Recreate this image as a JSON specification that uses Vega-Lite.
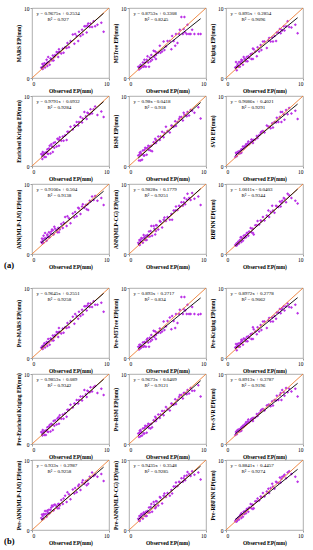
{
"$schema":"https://vega.github.io/schema/vega-lite/v6.json",
"padding":{"left":4,"top":5,"right":0,"bottom":0},
"background":"white",
"datasets":{
"pts":[
{"o":1.2,"a1":1.5,"a2":1.6,"a3":1.5,"a4":1.7,"a5":1.5,"a6":1.3,"a7":1.7,"a8":1.6,"a9":1.3,"b1":1.5,"b2":1.6,"b3":1.5,"b4":1.7,"b5":1.5,"b6":1.3,"b7":1.7,"b8":1.6,"b9":1.3},
{"o":1.3,"a1":1.4,"a2":1.2,"a3":2.3,"a4":1.6,"a5":0.8,"a6":1.9,"a7":2.2,"a8":1.4,"a9":1.2,"b1":1.4,"b2":1.2,"b3":2.0,"b4":1.6,"b5":1.0,"b6":1.7,"b7":2.2,"b8":1.4,"b9":1.2},
{"o":1.35,"a1":2.0,"a2":1.6,"a3":1.6,"a4":1.0,"a5":1.6,"a6":1.8,"a7":1.5,"a8":2.0,"a9":1.5,"b1":1.7,"b2":1.9,"b3":1.6,"b4":1.2,"b5":1.6,"b6":1.8,"b7":1.5,"b8":2.0,"b9":1.5},
{"o":1.4,"a1":1.3,"a2":1.6,"a3":1.1,"a4":2.0,"a5":1.9,"a6":1.4,"a7":2.0,"a8":1.3,"a9":1.2,"b1":1.3,"b2":1.6,"b3":1.1,"b4":2.0,"b5":1.9,"b6":1.4,"b7":2.0,"b8":1.3,"b9":1.2},
{"o":1.5,"a1":1.8,"a2":1.4,"a3":2.0,"a4":1.7,"a5":0.8,"a6":1.9,"a7":2.6,"a8":1.8,"a9":1.6,"b1":1.8,"b2":1.4,"b3":2.0,"b4":1.7,"b5":1.1,"b6":1.9,"b7":2.3,"b8":1.8,"b9":1.6},
{"o":1.5,"a1":1.6,"a2":1.9,"a3":1.8,"a4":1.6,"a5":2.0,"a6":2.0,"a7":1.6,"a8":2.0,"a9":1.4,"b1":1.6,"b2":1.9,"b3":1.8,"b4":1.6,"b5":2.0,"b6":2.0,"b7":1.6,"b8":2.0,"b9":1.4},
{"o":1.6,"a1":2.1,"a2":1.6,"a3":1.6,"a4":1.3,"a5":1.7,"a6":1.8,"a7":2.2,"a8":2.3,"a9":1.8,"b1":2.1,"b2":1.6,"b3":1.6,"b4":1.3,"b5":1.7,"b6":1.8,"b7":2.2,"b8":2.3,"b9":1.8},
{"o":1.7,"a1":1.5,"a2":1.6,"a3":2.3,"a4":1.9,"a5":0.9,"a6":2.1,"a7":3.0,"a8":2.2,"a9":1.5,"b1":1.5,"b2":1.6,"b3":2.1,"b4":1.9,"b5":1.2,"b6":2.1,"b7":2.7,"b8":2.2,"b9":1.5},
{"o":1.8,"a1":2.0,"a2":2.2,"a3":1.6,"a4":1.3,"a5":2.2,"a6":1.8,"a7":2.3,"a8":1.6,"a9":2.0,"b1":2.0,"b2":2.2,"b3":1.6,"b4":1.3,"b5":2.2,"b6":1.8,"b7":2.3,"b8":1.6,"b9":2.0},
{"o":1.9,"a1":2.6,"a2":1.6,"a3":2.1,"a4":2.0,"a5":1.5,"a6":2.2,"a7":1.9,"a8":2.7,"a9":2.4,"b1":2.3,"b2":1.6,"b3":2.1,"b4":2.0,"b5":1.5,"b6":2.2,"b7":1.9,"b8":2.5,"b9":2.2},
{"o":2.0,"a1":1.7,"a2":1.7,"a3":2.4,"a4":1.8,"a5":2.3,"a6":1.9,"a7":2.8,"a8":2.4,"a9":1.7,"b1":1.7,"b2":1.7,"b3":2.4,"b4":1.8,"b5":2.3,"b6":1.9,"b7":2.8,"b8":2.4,"b9":1.7},
{"o":2.0,"a1":2.2,"a2":2.6,"a3":2.6,"a4":2.4,"a5":1.5,"a6":2.4,"a7":2.6,"a8":2.3,"a9":2.4,"b1":2.2,"b2":2.3,"b3":2.6,"b4":2.4,"b5":1.5,"b6":2.4,"b7":2.6,"b8":2.3,"b9":2.4},
{"o":2.1,"a1":3.0,"a2":2.2,"a3":2.5,"a4":1.7,"a5":2.6,"a6":2.4,"a7":2.4,"a8":2.0,"a9":2.2,"b1":2.7,"b2":2.2,"b3":2.5,"b4":1.7,"b5":2.6,"b6":2.4,"b7":2.4,"b8":2.0,"b9":2.2},
{"o":2.2,"a1":2.3,"a2":1.6,"a3":1.9,"a4":2.5,"a5":2.5,"a6":2.8,"a7":3.1,"a8":2.6,"a9":1.9,"b1":2.3,"b2":1.6,"b3":1.9,"b4":2.5,"b5":2.5,"b6":2.6,"b7":2.9,"b8":2.6,"b9":1.9},
{"o":2.3,"a1":1.9,"a2":2.6,"a3":3.0,"a4":2.9,"a5":1.6,"a6":2.5,"a7":2.4,"a8":2.0,"a9":2.6,"b1":1.9,"b2":2.6,"b3":2.8,"b4":2.7,"b5":1.6,"b6":2.5,"b7":2.4,"b8":2.0,"b9":2.6},
{"o":2.4,"a1":2.8,"a2":3.1,"a3":2.7,"a4":1.8,"a5":2.6,"a6":2.8,"a7":2.9,"a8":2.7,"a9":2.3,"b1":2.8,"b2":2.8,"b3":2.7,"b4":1.8,"b5":2.6,"b6":2.8,"b7":2.9,"b8":2.7,"b9":2.3},
{"o":2.5,"a1":2.7,"a2":2.2,"a3":2.7,"a4":3.1,"a5":2.9,"a6":2.8,"a7":3.2,"a8":2.5,"a9":2.7,"b1":2.7,"b2":2.2,"b3":2.7,"b4":2.9,"b5":2.9,"b6":2.8,"b7":3.2,"b8":2.5,"b9":2.7},
{"o":2.6,"a1":2.5,"a2":1.6,"a3":2.4,"a4":2.8,"a5":2.3,"a6":3.1,"a7":3.5,"a8":3.2,"a9":2.4,"b1":2.5,"b2":1.6,"b3":2.4,"b4":2.8,"b5":2.3,"b6":3.1,"b7":3.5,"b8":3.2,"b9":2.4},
{"o":2.7,"a1":3.2,"a2":2.9,"a3":3.0,"a4":2.0,"a5":2.8,"a6":2.9,"a7":3.4,"a8":2.5,"a9":3.0,"b1":3.2,"b2":2.9,"b3":3.0,"b4":2.0,"b5":2.8,"b6":2.9,"b7":3.4,"b8":2.5,"b9":3.0},
{"o":2.8,"a1":2.5,"a2":2.4,"a3":2.4,"a4":3.3,"a5":2.2,"a6":3.2,"a7":2.8,"a8":3.3,"a9":3.0,"b1":2.5,"b2":2.4,"b3":2.4,"b4":3.3,"b5":2.2,"b6":3.2,"b7":2.8,"b8":3.3,"b9":3.0},
{"o":2.9,"a1":3.0,"a2":3.3,"a3":3.1,"a4":2.6,"a5":2.9,"a6":3.5,"a7":3.9,"a8":4.0,"a9":2.6,"b1":3.0,"b2":3.3,"b3":3.1,"b4":2.6,"b5":2.9,"b6":3.5,"b7":3.6,"b8":3.7,"b9":2.6},
{"o":3.0,"a1":3.3,"a2":2.6,"a3":2.9,"a4":3.4,"a5":2.1,"a6":3.1,"a7":3.6,"a8":2.6,"a9":3.2,"b1":3.3,"b2":2.6,"b3":2.9,"b4":3.4,"b5":2.4,"b6":3.1,"b7":3.6,"b8":2.6,"b9":3.2},
{"o":3.2,"a1":3.7,"a2":3.9,"a3":3.4,"a4":2.8,"a5":3.4,"a6":3.4,"a7":3.4,"a8":4.0,"a9":3.7,"b1":3.7,"b2":3.9,"b3":3.4,"b4":2.8,"b5":3.4,"b6":3.4,"b7":3.4,"b8":4.0,"b9":3.7},
{"o":3.3,"a1":3.6,"a2":3.0,"a3":2.7,"a4":3.9,"a5":3.3,"a6":3.8,"a7":3.1,"a8":3.6,"a9":3.1,"b1":3.6,"b2":3.0,"b3":2.7,"b4":3.6,"b5":3.3,"b6":3.6,"b7":3.1,"b8":3.6,"b9":3.1},
{"o":3.4,"a1":3.0,"a2":3.8,"a3":3.5,"a4":3.8,"a5":3.9,"a6":3.5,"a7":3.7,"a8":2.8,"a9":3.6,"b1":3.0,"b2":3.8,"b3":3.5,"b4":3.8,"b5":3.9,"b6":3.5,"b7":3.7,"b8":3.1,"b9":3.6},
{"o":3.5,"a1":4.1,"a2":3.3,"a3":4.2,"a4":2.9,"a5":3.3,"a6":3.3,"a7":3.1,"a8":4.1,"a9":3.0,"b1":4.3,"b2":3.3,"b3":4.4,"b4":2.9,"b5":3.3,"b6":3.3,"b7":3.1,"b8":4.1,"b9":3.0},
{"o":3.5,"a1":3.7,"a2":2.7,"a3":2.7,"a4":3.8,"a5":3.7,"a6":3.7,"a7":3.7,"a8":3.3,"a9":3.6,"b1":3.7,"b2":2.7,"b3":2.7,"b4":3.8,"b5":3.7,"b6":3.7,"b7":3.7,"b8":3.3,"b9":3.6},
{"o":3.6,"a1":3.7,"a2":3.6,"a3":4.1,"a4":4.1,"a5":3.6,"a6":3.7,"a7":3.5,"a8":4.1,"a9":2.8,"b1":3.7,"b2":3.6,"b3":4.1,"b4":4.1,"b5":3.6,"b6":3.7,"b7":3.5,"b8":4.1,"b9":3.1},
{"o":3.8,"a1":3.5,"a2":3.6,"a3":3.8,"a4":3.6,"a5":4.2,"a6":3.8,"a7":4.3,"a8":3.5,"a9":4.1,"b1":3.5,"b2":3.6,"b3":3.8,"b4":3.6,"b5":4.2,"b6":3.8,"b7":4.3,"b8":3.5,"b9":4.1},
{"o":4.0,"a1":4.2,"a2":4.6,"a3":3.1,"a4":4.2,"a5":3.7,"a6":4.3,"a7":3.7,"a8":4.7,"a9":4.1,"b1":4.2,"b2":4.2,"b3":3.4,"b4":4.2,"b5":3.7,"b6":4.3,"b7":3.7,"b8":4.7,"b9":4.1},
{"o":4.1,"a1":3.6,"a2":3.6,"a3":4.4,"a4":3.6,"a5":4.2,"a6":4.0,"a7":4.5,"a8":4.6,"a9":4.7,"b1":3.6,"b2":3.6,"b3":4.4,"b4":3.6,"b5":4.2,"b6":4.0,"b7":4.5,"b8":4.6,"b9":4.5},
{"o":4.3,"a1":4.4,"a2":3.8,"a3":3.8,"a4":4.4,"a5":4.9,"a6":4.4,"a7":5.3,"a8":3.8,"a9":4.2,"b1":4.4,"b2":3.8,"b3":3.8,"b4":4.4,"b5":4.7,"b6":4.4,"b7":4.9,"b8":3.8,"b9":4.2},
{"o":4.5,"a1":4.3,"a2":5.2,"a3":4.7,"a4":3.7,"a5":4.1,"a6":4.7,"a7":4.0,"a8":4.9,"a9":4.8,"b1":4.3,"b2":5.2,"b3":4.7,"b4":3.9,"b5":4.1,"b6":4.7,"b7":4.0,"b8":4.9,"b9":4.8},
{"o":4.6,"a1":5.0,"a2":4.0,"a3":4.0,"a4":4.9,"a5":4.7,"a6":4.9,"a7":5.4,"a8":5.2,"a9":4.7,"b1":5.0,"b2":4.0,"b3":4.0,"b4":4.9,"b5":4.7,"b6":4.9,"b7":5.4,"b8":5.2,"b9":4.7},
{"o":4.8,"a1":4.4,"a2":4.5,"a3":5.2,"a4":4.9,"a5":5.6,"a6":5.0,"a7":5.1,"a8":4.7,"a9":5.3,"b1":4.4,"b2":4.5,"b3":5.2,"b4":4.9,"b5":5.3,"b6":5.0,"b7":5.1,"b8":4.7,"b9":5.3},
{"o":5.0,"a1":5.3,"a2":5.3,"a3":5.2,"a4":5.6,"a5":5.0,"a6":4.8,"a7":4.4,"a8":5.3,"a9":4.8,"b1":5.3,"b2":5.3,"b3":5.2,"b4":5.6,"b5":5.0,"b6":4.8,"b7":4.4,"b8":5.3,"b9":4.8},
{"o":5.3,"a1":6.2,"a2":5.3,"a3":4.3,"a4":5.2,"a5":4.8,"a6":5.8,"a7":5.8,"a8":4.9,"a9":5.5,"b1":5.9,"b2":5.8,"b3":4.3,"b4":5.2,"b5":4.8,"b6":5.5,"b7":5.8,"b8":4.9,"b9":5.5},
{"o":5.5,"a1":4.9,"a2":4.1,"a3":5.4,"a4":5.8,"a5":5.8,"a6":5.6,"a7":5.2,"a8":5.7,"a9":6.2,"b1":4.9,"b2":4.1,"b3":5.4,"b4":5.8,"b5":5.8,"b6":5.6,"b7":5.2,"b8":5.7,"b9":5.9},
{"o":5.6,"a1":6.3,"a2":6.0,"a3":5.7,"a4":5.7,"a5":5.7,"a6":5.6,"a7":6.0,"a8":4.9,"a9":5.3,"b1":6.3,"b2":6.0,"b3":5.7,"b4":5.7,"b5":5.7,"b6":5.6,"b7":6.0,"b8":5.2,"b9":5.3},
{"o":5.8,"a1":6.0,"a2":5.3,"a3":5.2,"a4":6.3,"a5":5.6,"a6":5.4,"a7":5.4,"a8":6.2,"a9":6.0,"b1":6.0,"b2":5.3,"b3":5.2,"b4":6.3,"b5":5.6,"b6":5.4,"b7":5.4,"b8":6.2,"b9":6.0},
{"o":6.0,"a1":5.3,"a2":4.6,"a3":5.8,"a4":5.8,"a5":6.4,"a6":6.1,"a7":6.6,"a8":6.2,"a9":6.9,"b1":5.6,"b2":4.3,"b3":5.8,"b4":5.8,"b5":6.4,"b6":6.1,"b7":6.3,"b8":6.2,"b9":6.6},
{"o":6.1,"a1":6.6,"a2":6.3,"a3":5.2,"a4":6.3,"a5":5.7,"a6":5.5,"a7":6.5,"a8":6.8,"a9":6.2,"b1":6.6,"b2":6.3,"b3":5.2,"b4":6.3,"b5":5.7,"b6":5.5,"b7":6.5,"b8":6.8,"b9":6.2},
{"o":6.3,"a1":6.0,"a2":5.0,"a3":6.0,"a4":7.0,"a5":6.3,"a6":6.3,"a7":5.7,"a8":6.3,"a9":5.9,"b1":6.0,"b2":5.0,"b3":6.0,"b4":6.8,"b5":6.3,"b6":6.3,"b7":5.7,"b8":6.3,"b9":5.9},
{"o":6.5,"a1":6.9,"a2":6.3,"a3":5.3,"a4":6.2,"a5":6.7,"a6":6.2,"a7":6.8,"a8":6.9,"a9":6.9,"b1":6.9,"b2":6.3,"b3":5.6,"b4":6.2,"b5":6.7,"b6":6.2,"b7":6.8,"b8":6.9,"b9":6.9},
{"o":6.6,"a1":6.2,"a2":6.9,"a3":6.5,"a4":6.8,"a5":7.0,"a6":6.9,"a7":7.1,"a8":6.8,"a9":6.8,"b1":6.2,"b2":6.9,"b3":6.5,"b4":6.8,"b5":7.0,"b6":6.9,"b7":7.1,"b8":6.8,"b9":6.8},
{"o":6.8,"a1":7.4,"a2":8.7,"a3":6.5,"a4":7.7,"a5":7.0,"a6":6.3,"a7":6.6,"a8":7.4,"a9":6.7,"b1":7.4,"b2":8.7,"b3":6.5,"b4":7.7,"b5":7.0,"b6":6.3,"b7":6.6,"b8":7.4,"b9":6.7},
{"o":7.0,"a1":7.4,"a2":6.3,"a3":7.0,"a4":7.1,"a5":6.5,"a6":7.0,"a7":7.0,"a8":6.9,"a9":7.5,"b1":7.4,"b2":6.3,"b3":7.0,"b4":7.1,"b5":6.5,"b6":7.0,"b7":7.0,"b8":6.9,"b9":7.5},
{"o":7.1,"a1":6.5,"a2":7.0,"a3":6.4,"a4":6.7,"a5":7.6,"a6":7.7,"a7":6.4,"a8":7.4,"a9":6.8,"b1":6.8,"b2":7.0,"b3":6.4,"b4":6.7,"b5":7.3,"b6":7.3,"b7":6.4,"b8":7.4,"b9":6.8},
{"o":7.2,"a1":7.5,"a2":8.7,"a3":6.9,"a4":7.6,"a5":7.3,"a6":6.3,"a7":7.1,"a8":8.0,"a9":7.3,"b1":7.5,"b2":8.7,"b3":6.9,"b4":7.6,"b5":7.3,"b6":6.3,"b7":7.1,"b8":7.7,"b9":7.3},
{"o":7.3,"a1":7.8,"a2":6.5,"a3":6.8,"a4":7.5,"a5":7.3,"a6":7.7,"a7":6.3,"a8":7.1,"a9":7.6,"b1":7.8,"b2":6.8,"b3":7.1,"b4":7.5,"b5":7.3,"b6":7.7,"b7":6.6,"b8":7.1,"b9":7.6},
{"o":7.5,"a1":7.3,"a2":6.3,"a3":7.4,"a4":7.4,"a5":7.1,"a6":7.4,"a7":7.6,"a8":7.8,"a9":8.0,"b1":7.3,"b2":6.3,"b3":7.4,"b4":7.4,"b5":7.1,"b6":7.4,"b7":7.6,"b8":7.8,"b9":7.7},
{"o":7.6,"a1":7.8,"a2":7.6,"a3":6.8,"a4":8.1,"a5":7.7,"a6":6.6,"a7":7.5,"a8":8.6,"a9":7.9,"b1":7.8,"b2":7.6,"b3":6.8,"b4":8.1,"b5":7.7,"b6":6.9,"b7":7.5,"b8":8.3,"b9":7.9},
{"o":7.8,"a1":7.3,"a2":6.3,"a3":7.4,"a4":7.5,"a5":7.2,"a6":8.0,"a7":8.2,"a8":8.0,"a9":7.4,"b1":7.3,"b2":6.3,"b3":7.4,"b4":7.5,"b5":7.2,"b6":8.0,"b7":8.2,"b8":8.0,"b9":7.4},
{"o":8.0,"a1":8.1,"a2":6.3,"a3":8.1,"a4":8.1,"a5":8.0,"a6":7.4,"a7":7.7,"a8":7.7,"a9":8.6,"b1":8.1,"b2":6.3,"b3":7.8,"b4":8.1,"b5":8.0,"b6":7.4,"b7":7.7,"b8":7.7,"b9":8.2},
{"o":8.2,"a1":7.4,"a2":6.9,"a3":7.3,"a4":8.5,"a5":7.9,"a6":8.3,"a7":8.3,"a8":8.7,"a9":8.4,"b1":7.6,"b2":7.3,"b3":7.3,"b4":8.3,"b5":7.6,"b6":7.9,"b7":7.9,"b8":8.4,"b9":8.4},
{"o":8.5,"a1":7.6,"a2":6.3,"a3":7.2,"a4":7.3,"a5":7.6,"a6":7.5,"a7":7.6,"a8":7.9,"a9":8.0,"b1":7.6,"b2":6.3,"b3":7.2,"b4":7.3,"b5":7.6,"b6":7.5,"b7":7.6,"b8":7.9,"b9":8.0},
{"o":9.0,"a1":7.9,"a2":6.3,"a3":7.6,"a4":7.8,"a5":8.4,"a6":7.9,"a7":8.0,"a8":8.2,"a9":7.6,"b1":7.9,"b2":6.2,"b3":7.6,"b4":7.9,"b5":8.4,"b6":7.9,"b7":8.0,"b8":8.2,"b9":7.6},
{"o":9.3,"a1":6.6,"a2":6.3,"a3":6.4,"a4":7.0,"a5":6.8,"a6":6.7,"a7":7.0,"a8":7.0,"a9":7.2,"b1":6.6,"b2":6.3,"b3":6.4,"b4":7.0,"b5":6.8,"b6":6.8,"b7":7.0,"b8":7.2,"b9":6.9}
],
"diag":[{"o":0,"f":0},{"o":10,"f":10}],
"fit":[
{"p":"a1","o":1.2,"f":1.41},{"p":"a1","o":9.3,"f":9.25},
{"p":"a2","o":1.2,"f":1.38},{"p":"a2","o":9.3,"f":8.47},
{"p":"a3","o":1.2,"f":1.36},{"p":"a3","o":9.3,"f":8.61},
{"p":"a4","o":1.2,"f":1.27},{"p":"a4","o":9.3,"f":9.2},
{"p":"a5","o":1.2,"f":1.13},{"p":"a5","o":9.3,"f":9.07},
{"p":"a6","o":1.2,"f":1.49},{"p":"a6","o":9.3,"f":8.85},
{"p":"a7","o":1.2,"f":1.6},{"p":"a7","o":9.3,"f":8.97},
{"p":"a8","o":1.2,"f":1.36},{"p":"a8","o":9.3,"f":9.32},
{"p":"a9","o":1.2,"f":1.16},{"p":"a9","o":9.3,"f":9.27},
{"p":"b1","o":1.2,"f":1.41},{"p":"b1","o":9.3,"f":9.23},
{"p":"b2","o":1.2,"f":1.34},{"p":"b2","o":9.3,"f":8.58},
{"p":"b3","o":1.2,"f":1.35},{"p":"b3","o":9.3,"f":8.62},
{"p":"b4","o":1.2,"f":1.27},{"p":"b4","o":9.3,"f":9.25},
{"p":"b5","o":1.2,"f":1.2},{"p":"b5","o":9.3,"f":9.04},
{"p":"b6","o":1.2,"f":1.45},{"p":"b6","o":9.3,"f":8.67},
{"p":"b7","o":1.2,"f":1.42},{"p":"b7","o":9.3,"f":8.98},
{"p":"b8","o":1.2,"f":1.49},{"p":"b8","o":9.3,"f":9.13},
{"p":"b9","o":1.2,"f":1.51},{"p":"b9","o":9.3,"f":8.67}
],
"eq":[
{"p":"a1","t1":"y = 0.9675x + 0.2534","t2":"R² = 0.927"},
{"p":"a2","t1":"y = 0.8753x + 0.3308","t2":"R² = 0.8245"},
{"p":"a3","t1":"y = 0.895x + 0.2854","t2":"R² = 0.9096"},
{"p":"a4","t1":"y = 0.9791x + 0.0932","t2":"R² = 0.9284"},
{"p":"a5","t1":"y = 0.98x - 0.0418","t2":"R² = 0.918"},
{"p":"a6","t1":"y = 0.9086x + 0.4021","t2":"R² = 0.9291"},
{"p":"a7","t1":"y = 0.9106x + 0.504","t2":"R² = 0.9138"},
{"p":"a8","t1":"y = 0.9828x + 0.1779","t2":"R² = 0.9251"},
{"p":"a9","t1":"y = 1.0011x - 0.0403","t2":"R² = 0.9344"},
{"p":"b1","t1":"y = 0.9645x + 0.2551","t2":"R² = 0.9258"},
{"p":"b2","t1":"y = 0.893x + 0.2717","t2":"R² = 0.834"},
{"p":"b3","t1":"y = 0.8972x + 0.2778","t2":"R² = 0.9062"},
{"p":"b4","t1":"y = 0.9853x + 0.089","t2":"R² = 0.9342"},
{"p":"b5","t1":"y = 0.9673x + 0.0409","t2":"R² = 0.9121"},
{"p":"b6","t1":"y = 0.8913x + 0.3787","t2":"R² = 0.9196"},
{"p":"b7","t1":"y = 0.933x + 0.2987","t2":"R² = 0.9258"},
{"p":"b8","t1":"y = 0.9435x + 0.3548","t2":"R² = 0.9285"},
{"p":"b9","t1":"y = 0.8841x + 0.4457","t2":"R² = 0.9274"}
]
},
"vconcat":[
{"title":{"text":"(a)","orient":"bottom","anchor":"start","frame":"bounds","offset":-9,"dx":-12,"fontSize":8.5,"font":"Liberation Serif","fontWeight":"bold","color":"black"},
"columns":3,"bounds":"flush","spacing":{"row":18,"column":20},
"concat":[
{"width":77,"height":70,"layer":[
{"data":{"name":"pts"},"mark":{"type":"point","shape":"diamond","filled":true,"size":9,"color":"#bb33e6","opacity":1},"encoding":{"x":{"field":"o","type":"quantitative","scale":{"domain":[0,10],"nice":false},"axis":{"title":"Observed EP(mm)","values":[0,2,4,6,8,10]}},"y":{"field":"a1","type":"quantitative","scale":{"domain":[0,10],"nice":false},"axis":{"title":"MARS EP(mm)","values":[0,2,4,6,8,10]}}}},
{"data":{"name":"diag"},"mark":{"type":"line","color":"#ED7D31","strokeWidth":0.9},"encoding":{"x":{"field":"o","type":"quantitative"},"y":{"field":"f","type":"quantitative"}}},
{"data":{"name":"fit"},"transform":[{"filter":"datum.p=='a1'"}],"mark":{"type":"line","color":"black","strokeWidth":0.9},"encoding":{"x":{"field":"o","type":"quantitative"},"y":{"field":"f","type":"quantitative"}}},
{"data":{"name":"eq"},"transform":[{"filter":"datum.p=='a1'"}],"mark":{"type":"text","align":"left","baseline":"middle","fontSize":5,"font":"Liberation Serif"},"encoding":{"x":{"datum":0.6,"type":"quantitative"},"y":{"datum":9.3,"type":"quantitative"},"text":{"field":"t1"}}},
{"data":{"name":"eq"},"transform":[{"filter":"datum.p=='a1'"}],"mark":{"type":"text","align":"left","baseline":"middle","fontSize":5,"font":"Liberation Serif"},"encoding":{"x":{"datum":2.0,"type":"quantitative"},"y":{"datum":8.5,"type":"quantitative"},"text":{"field":"t2"}}}
]},
{"width":77,"height":70,"layer":[
{"data":{"name":"pts"},"mark":{"type":"point","shape":"diamond","filled":true,"size":9,"color":"#bb33e6","opacity":1},"encoding":{"x":{"field":"o","type":"quantitative","scale":{"domain":[0,10],"nice":false},"axis":{"title":"Observed EP(mm)","values":[0,2,4,6,8,10]}},"y":{"field":"a2","type":"quantitative","scale":{"domain":[0,10],"nice":false},"axis":{"title":"M5Tree EP(mm)","values":[0,2,4,6,8,10]}}}},
{"data":{"name":"diag"},"mark":{"type":"line","color":"#ED7D31","strokeWidth":0.9},"encoding":{"x":{"field":"o","type":"quantitative"},"y":{"field":"f","type":"quantitative"}}},
{"data":{"name":"fit"},"transform":[{"filter":"datum.p=='a2'"}],"mark":{"type":"line","color":"black","strokeWidth":0.9},"encoding":{"x":{"field":"o","type":"quantitative"},"y":{"field":"f","type":"quantitative"}}},
{"data":{"name":"eq"},"transform":[{"filter":"datum.p=='a2'"}],"mark":{"type":"text","align":"left","baseline":"middle","fontSize":5,"font":"Liberation Serif"},"encoding":{"x":{"datum":0.6,"type":"quantitative"},"y":{"datum":9.3,"type":"quantitative"},"text":{"field":"t1"}}},
{"data":{"name":"eq"},"transform":[{"filter":"datum.p=='a2'"}],"mark":{"type":"text","align":"left","baseline":"middle","fontSize":5,"font":"Liberation Serif"},"encoding":{"x":{"datum":2.0,"type":"quantitative"},"y":{"datum":8.5,"type":"quantitative"},"text":{"field":"t2"}}}
]},
{"width":77,"height":70,"layer":[
{"data":{"name":"pts"},"mark":{"type":"point","shape":"diamond","filled":true,"size":9,"color":"#bb33e6","opacity":1},"encoding":{"x":{"field":"o","type":"quantitative","scale":{"domain":[0,10],"nice":false},"axis":{"title":"Observed EP(mm)","values":[0,2,4,6,8,10]}},"y":{"field":"a3","type":"quantitative","scale":{"domain":[0,10],"nice":false},"axis":{"title":"Kriging EP(mm)","values":[0,2,4,6,8,10]}}}},
{"data":{"name":"diag"},"mark":{"type":"line","color":"#ED7D31","strokeWidth":0.9},"encoding":{"x":{"field":"o","type":"quantitative"},"y":{"field":"f","type":"quantitative"}}},
{"data":{"name":"fit"},"transform":[{"filter":"datum.p=='a3'"}],"mark":{"type":"line","color":"black","strokeWidth":0.9},"encoding":{"x":{"field":"o","type":"quantitative"},"y":{"field":"f","type":"quantitative"}}},
{"data":{"name":"eq"},"transform":[{"filter":"datum.p=='a3'"}],"mark":{"type":"text","align":"left","baseline":"middle","fontSize":5,"font":"Liberation Serif"},"encoding":{"x":{"datum":0.6,"type":"quantitative"},"y":{"datum":9.3,"type":"quantitative"},"text":{"field":"t1"}}},
{"data":{"name":"eq"},"transform":[{"filter":"datum.p=='a3'"}],"mark":{"type":"text","align":"left","baseline":"middle","fontSize":5,"font":"Liberation Serif"},"encoding":{"x":{"datum":2.0,"type":"quantitative"},"y":{"datum":8.5,"type":"quantitative"},"text":{"field":"t2"}}}
]},
{"width":77,"height":70,"layer":[
{"data":{"name":"pts"},"mark":{"type":"point","shape":"diamond","filled":true,"size":9,"color":"#bb33e6","opacity":1},"encoding":{"x":{"field":"o","type":"quantitative","scale":{"domain":[0,10],"nice":false},"axis":{"title":"Observed EP(mm)","values":[0,2,4,6,8,10]}},"y":{"field":"a4","type":"quantitative","scale":{"domain":[0,10],"nice":false},"axis":{"title":"Enriched Kriging EP(mm)","values":[0,2,4,6,8,10]}}}},
{"data":{"name":"diag"},"mark":{"type":"line","color":"#ED7D31","strokeWidth":0.9},"encoding":{"x":{"field":"o","type":"quantitative"},"y":{"field":"f","type":"quantitative"}}},
{"data":{"name":"fit"},"transform":[{"filter":"datum.p=='a4'"}],"mark":{"type":"line","color":"black","strokeWidth":0.9},"encoding":{"x":{"field":"o","type":"quantitative"},"y":{"field":"f","type":"quantitative"}}},
{"data":{"name":"eq"},"transform":[{"filter":"datum.p=='a4'"}],"mark":{"type":"text","align":"left","baseline":"middle","fontSize":5,"font":"Liberation Serif"},"encoding":{"x":{"datum":0.6,"type":"quantitative"},"y":{"datum":9.3,"type":"quantitative"},"text":{"field":"t1"}}},
{"data":{"name":"eq"},"transform":[{"filter":"datum.p=='a4'"}],"mark":{"type":"text","align":"left","baseline":"middle","fontSize":5,"font":"Liberation Serif"},"encoding":{"x":{"datum":2.0,"type":"quantitative"},"y":{"datum":8.5,"type":"quantitative"},"text":{"field":"t2"}}}
]},
{"width":77,"height":70,"layer":[
{"data":{"name":"pts"},"mark":{"type":"point","shape":"diamond","filled":true,"size":9,"color":"#bb33e6","opacity":1},"encoding":{"x":{"field":"o","type":"quantitative","scale":{"domain":[0,10],"nice":false},"axis":{"title":"Observed EP(mm)","values":[0,2,4,6,8,10]}},"y":{"field":"a5","type":"quantitative","scale":{"domain":[0,10],"nice":false},"axis":{"title":"RSM EP(mm)","values":[0,2,4,6,8,10]}}}},
{"data":{"name":"diag"},"mark":{"type":"line","color":"#ED7D31","strokeWidth":0.9},"encoding":{"x":{"field":"o","type":"quantitative"},"y":{"field":"f","type":"quantitative"}}},
{"data":{"name":"fit"},"transform":[{"filter":"datum.p=='a5'"}],"mark":{"type":"line","color":"black","strokeWidth":0.9},"encoding":{"x":{"field":"o","type":"quantitative"},"y":{"field":"f","type":"quantitative"}}},
{"data":{"name":"eq"},"transform":[{"filter":"datum.p=='a5'"}],"mark":{"type":"text","align":"left","baseline":"middle","fontSize":5,"font":"Liberation Serif"},"encoding":{"x":{"datum":0.6,"type":"quantitative"},"y":{"datum":9.3,"type":"quantitative"},"text":{"field":"t1"}}},
{"data":{"name":"eq"},"transform":[{"filter":"datum.p=='a5'"}],"mark":{"type":"text","align":"left","baseline":"middle","fontSize":5,"font":"Liberation Serif"},"encoding":{"x":{"datum":2.0,"type":"quantitative"},"y":{"datum":8.5,"type":"quantitative"},"text":{"field":"t2"}}}
]},
{"width":77,"height":70,"layer":[
{"data":{"name":"pts"},"mark":{"type":"point","shape":"diamond","filled":true,"size":9,"color":"#bb33e6","opacity":1},"encoding":{"x":{"field":"o","type":"quantitative","scale":{"domain":[0,10],"nice":false},"axis":{"title":"Observed EP(mm)","values":[0,2,4,6,8,10]}},"y":{"field":"a6","type":"quantitative","scale":{"domain":[0,10],"nice":false},"axis":{"title":"SVR EP(mm)","values":[0,2,4,6,8,10]}}}},
{"data":{"name":"diag"},"mark":{"type":"line","color":"#ED7D31","strokeWidth":0.9},"encoding":{"x":{"field":"o","type":"quantitative"},"y":{"field":"f","type":"quantitative"}}},
{"data":{"name":"fit"},"transform":[{"filter":"datum.p=='a6'"}],"mark":{"type":"line","color":"black","strokeWidth":0.9},"encoding":{"x":{"field":"o","type":"quantitative"},"y":{"field":"f","type":"quantitative"}}},
{"data":{"name":"eq"},"transform":[{"filter":"datum.p=='a6'"}],"mark":{"type":"text","align":"left","baseline":"middle","fontSize":5,"font":"Liberation Serif"},"encoding":{"x":{"datum":0.6,"type":"quantitative"},"y":{"datum":9.3,"type":"quantitative"},"text":{"field":"t1"}}},
{"data":{"name":"eq"},"transform":[{"filter":"datum.p=='a6'"}],"mark":{"type":"text","align":"left","baseline":"middle","fontSize":5,"font":"Liberation Serif"},"encoding":{"x":{"datum":2.0,"type":"quantitative"},"y":{"datum":8.5,"type":"quantitative"},"text":{"field":"t2"}}}
]},
{"width":77,"height":70,"layer":[
{"data":{"name":"pts"},"mark":{"type":"point","shape":"diamond","filled":true,"size":9,"color":"#bb33e6","opacity":1},"encoding":{"x":{"field":"o","type":"quantitative","scale":{"domain":[0,10],"nice":false},"axis":{"title":"Observed EP(mm)","values":[0,2,4,6,8,10]}},"y":{"field":"a7","type":"quantitative","scale":{"domain":[0,10],"nice":false},"axis":{"title":"ANN(MLP-LM) EP(mm)","values":[0,2,4,6,8,10]}}}},
{"data":{"name":"diag"},"mark":{"type":"line","color":"#ED7D31","strokeWidth":0.9},"encoding":{"x":{"field":"o","type":"quantitative"},"y":{"field":"f","type":"quantitative"}}},
{"data":{"name":"fit"},"transform":[{"filter":"datum.p=='a7'"}],"mark":{"type":"line","color":"black","strokeWidth":0.9},"encoding":{"x":{"field":"o","type":"quantitative"},"y":{"field":"f","type":"quantitative"}}},
{"data":{"name":"eq"},"transform":[{"filter":"datum.p=='a7'"}],"mark":{"type":"text","align":"left","baseline":"middle","fontSize":5,"font":"Liberation Serif"},"encoding":{"x":{"datum":0.6,"type":"quantitative"},"y":{"datum":9.3,"type":"quantitative"},"text":{"field":"t1"}}},
{"data":{"name":"eq"},"transform":[{"filter":"datum.p=='a7'"}],"mark":{"type":"text","align":"left","baseline":"middle","fontSize":5,"font":"Liberation Serif"},"encoding":{"x":{"datum":2.0,"type":"quantitative"},"y":{"datum":8.5,"type":"quantitative"},"text":{"field":"t2"}}}
]},
{"width":77,"height":70,"layer":[
{"data":{"name":"pts"},"mark":{"type":"point","shape":"diamond","filled":true,"size":9,"color":"#bb33e6","opacity":1},"encoding":{"x":{"field":"o","type":"quantitative","scale":{"domain":[0,10],"nice":false},"axis":{"title":"Observed EP(mm)","values":[0,2,4,6,8,10]}},"y":{"field":"a8","type":"quantitative","scale":{"domain":[0,10],"nice":false},"axis":{"title":"ANN(MLP-CG) EP(mm)","values":[0,2,4,6,8,10]}}}},
{"data":{"name":"diag"},"mark":{"type":"line","color":"#ED7D31","strokeWidth":0.9},"encoding":{"x":{"field":"o","type":"quantitative"},"y":{"field":"f","type":"quantitative"}}},
{"data":{"name":"fit"},"transform":[{"filter":"datum.p=='a8'"}],"mark":{"type":"line","color":"black","strokeWidth":0.9},"encoding":{"x":{"field":"o","type":"quantitative"},"y":{"field":"f","type":"quantitative"}}},
{"data":{"name":"eq"},"transform":[{"filter":"datum.p=='a8'"}],"mark":{"type":"text","align":"left","baseline":"middle","fontSize":5,"font":"Liberation Serif"},"encoding":{"x":{"datum":0.6,"type":"quantitative"},"y":{"datum":9.3,"type":"quantitative"},"text":{"field":"t1"}}},
{"data":{"name":"eq"},"transform":[{"filter":"datum.p=='a8'"}],"mark":{"type":"text","align":"left","baseline":"middle","fontSize":5,"font":"Liberation Serif"},"encoding":{"x":{"datum":2.0,"type":"quantitative"},"y":{"datum":8.5,"type":"quantitative"},"text":{"field":"t2"}}}
]},
{"width":77,"height":70,"layer":[
{"data":{"name":"pts"},"mark":{"type":"point","shape":"diamond","filled":true,"size":9,"color":"#bb33e6","opacity":1},"encoding":{"x":{"field":"o","type":"quantitative","scale":{"domain":[0,10],"nice":false},"axis":{"title":"Observed EP(mm)","values":[0,2,4,6,8,10]}},"y":{"field":"a9","type":"quantitative","scale":{"domain":[0,10],"nice":false},"axis":{"title":"RBFNN EP(mm)","values":[0,2,4,6,8,10]}}}},
{"data":{"name":"diag"},"mark":{"type":"line","color":"#ED7D31","strokeWidth":0.9},"encoding":{"x":{"field":"o","type":"quantitative"},"y":{"field":"f","type":"quantitative"}}},
{"data":{"name":"fit"},"transform":[{"filter":"datum.p=='a9'"}],"mark":{"type":"line","color":"black","strokeWidth":0.9},"encoding":{"x":{"field":"o","type":"quantitative"},"y":{"field":"f","type":"quantitative"}}},
{"data":{"name":"eq"},"transform":[{"filter":"datum.p=='a9'"}],"mark":{"type":"text","align":"left","baseline":"middle","fontSize":5,"font":"Liberation Serif"},"encoding":{"x":{"datum":0.6,"type":"quantitative"},"y":{"datum":9.3,"type":"quantitative"},"text":{"field":"t1"}}},
{"data":{"name":"eq"},"transform":[{"filter":"datum.p=='a9'"}],"mark":{"type":"text","align":"left","baseline":"middle","fontSize":5,"font":"Liberation Serif"},"encoding":{"x":{"datum":2.0,"type":"quantitative"},"y":{"datum":8.5,"type":"quantitative"},"text":{"field":"t2"}}}
]}
]},
{"title":{"text":"(b)","orient":"bottom","anchor":"start","frame":"bounds","offset":-9,"dx":-12,"fontSize":8.5,"font":"Liberation Serif","fontWeight":"bold","color":"black"},
"columns":3,"bounds":"flush","spacing":{"row":16,"column":20},
"concat":[
{"width":77,"height":70,"layer":[
{"data":{"name":"pts"},"mark":{"type":"point","shape":"diamond","filled":true,"size":9,"color":"#bb33e6","opacity":1},"encoding":{"x":{"field":"o","type":"quantitative","scale":{"domain":[0,10],"nice":false},"axis":{"title":"Observed EP(mm)","values":[0,2,4,6,8,10]}},"y":{"field":"b1","type":"quantitative","scale":{"domain":[0,10],"nice":false},"axis":{"title":"Pre-MARS EP(mm)","values":[0,2,4,6,8,10]}}}},
{"data":{"name":"diag"},"mark":{"type":"line","color":"#ED7D31","strokeWidth":0.9},"encoding":{"x":{"field":"o","type":"quantitative"},"y":{"field":"f","type":"quantitative"}}},
{"data":{"name":"fit"},"transform":[{"filter":"datum.p=='b1'"}],"mark":{"type":"line","color":"black","strokeWidth":0.9},"encoding":{"x":{"field":"o","type":"quantitative"},"y":{"field":"f","type":"quantitative"}}},
{"data":{"name":"eq"},"transform":[{"filter":"datum.p=='b1'"}],"mark":{"type":"text","align":"left","baseline":"middle","fontSize":5,"font":"Liberation Serif"},"encoding":{"x":{"datum":0.6,"type":"quantitative"},"y":{"datum":9.3,"type":"quantitative"},"text":{"field":"t1"}}},
{"data":{"name":"eq"},"transform":[{"filter":"datum.p=='b1'"}],"mark":{"type":"text","align":"left","baseline":"middle","fontSize":5,"font":"Liberation Serif"},"encoding":{"x":{"datum":2.0,"type":"quantitative"},"y":{"datum":8.5,"type":"quantitative"},"text":{"field":"t2"}}}
]},
{"width":77,"height":70,"layer":[
{"data":{"name":"pts"},"mark":{"type":"point","shape":"diamond","filled":true,"size":9,"color":"#bb33e6","opacity":1},"encoding":{"x":{"field":"o","type":"quantitative","scale":{"domain":[0,10],"nice":false},"axis":{"title":"Observed EP(mm)","values":[0,2,4,6,8,10]}},"y":{"field":"b2","type":"quantitative","scale":{"domain":[0,10],"nice":false},"axis":{"title":"Pre-M5Tree EP(mm)","values":[0,2,4,6,8,10]}}}},
{"data":{"name":"diag"},"mark":{"type":"line","color":"#ED7D31","strokeWidth":0.9},"encoding":{"x":{"field":"o","type":"quantitative"},"y":{"field":"f","type":"quantitative"}}},
{"data":{"name":"fit"},"transform":[{"filter":"datum.p=='b2'"}],"mark":{"type":"line","color":"black","strokeWidth":0.9},"encoding":{"x":{"field":"o","type":"quantitative"},"y":{"field":"f","type":"quantitative"}}},
{"data":{"name":"eq"},"transform":[{"filter":"datum.p=='b2'"}],"mark":{"type":"text","align":"left","baseline":"middle","fontSize":5,"font":"Liberation Serif"},"encoding":{"x":{"datum":0.6,"type":"quantitative"},"y":{"datum":9.3,"type":"quantitative"},"text":{"field":"t1"}}},
{"data":{"name":"eq"},"transform":[{"filter":"datum.p=='b2'"}],"mark":{"type":"text","align":"left","baseline":"middle","fontSize":5,"font":"Liberation Serif"},"encoding":{"x":{"datum":2.0,"type":"quantitative"},"y":{"datum":8.5,"type":"quantitative"},"text":{"field":"t2"}}}
]},
{"width":77,"height":70,"layer":[
{"data":{"name":"pts"},"mark":{"type":"point","shape":"diamond","filled":true,"size":9,"color":"#bb33e6","opacity":1},"encoding":{"x":{"field":"o","type":"quantitative","scale":{"domain":[0,10],"nice":false},"axis":{"title":"Observed EP(mm)","values":[0,2,4,6,8,10]}},"y":{"field":"b3","type":"quantitative","scale":{"domain":[0,10],"nice":false},"axis":{"title":"Pre-Kriging EP(mm)","values":[0,2,4,6,8,10]}}}},
{"data":{"name":"diag"},"mark":{"type":"line","color":"#ED7D31","strokeWidth":0.9},"encoding":{"x":{"field":"o","type":"quantitative"},"y":{"field":"f","type":"quantitative"}}},
{"data":{"name":"fit"},"transform":[{"filter":"datum.p=='b3'"}],"mark":{"type":"line","color":"black","strokeWidth":0.9},"encoding":{"x":{"field":"o","type":"quantitative"},"y":{"field":"f","type":"quantitative"}}},
{"data":{"name":"eq"},"transform":[{"filter":"datum.p=='b3'"}],"mark":{"type":"text","align":"left","baseline":"middle","fontSize":5,"font":"Liberation Serif"},"encoding":{"x":{"datum":0.6,"type":"quantitative"},"y":{"datum":9.3,"type":"quantitative"},"text":{"field":"t1"}}},
{"data":{"name":"eq"},"transform":[{"filter":"datum.p=='b3'"}],"mark":{"type":"text","align":"left","baseline":"middle","fontSize":5,"font":"Liberation Serif"},"encoding":{"x":{"datum":2.0,"type":"quantitative"},"y":{"datum":8.5,"type":"quantitative"},"text":{"field":"t2"}}}
]},
{"width":77,"height":70,"layer":[
{"data":{"name":"pts"},"mark":{"type":"point","shape":"diamond","filled":true,"size":9,"color":"#bb33e6","opacity":1},"encoding":{"x":{"field":"o","type":"quantitative","scale":{"domain":[0,10],"nice":false},"axis":{"title":"Observed EP(mm)","values":[0,2,4,6,8,10]}},"y":{"field":"b4","type":"quantitative","scale":{"domain":[0,10],"nice":false},"axis":{"title":"Pre-Enriched Kriging EP(mm)","values":[0,2,4,6,8,10]}}}},
{"data":{"name":"diag"},"mark":{"type":"line","color":"#ED7D31","strokeWidth":0.9},"encoding":{"x":{"field":"o","type":"quantitative"},"y":{"field":"f","type":"quantitative"}}},
{"data":{"name":"fit"},"transform":[{"filter":"datum.p=='b4'"}],"mark":{"type":"line","color":"black","strokeWidth":0.9},"encoding":{"x":{"field":"o","type":"quantitative"},"y":{"field":"f","type":"quantitative"}}},
{"data":{"name":"eq"},"transform":[{"filter":"datum.p=='b4'"}],"mark":{"type":"text","align":"left","baseline":"middle","fontSize":5,"font":"Liberation Serif"},"encoding":{"x":{"datum":0.6,"type":"quantitative"},"y":{"datum":9.3,"type":"quantitative"},"text":{"field":"t1"}}},
{"data":{"name":"eq"},"transform":[{"filter":"datum.p=='b4'"}],"mark":{"type":"text","align":"left","baseline":"middle","fontSize":5,"font":"Liberation Serif"},"encoding":{"x":{"datum":2.0,"type":"quantitative"},"y":{"datum":8.5,"type":"quantitative"},"text":{"field":"t2"}}}
]},
{"width":77,"height":70,"layer":[
{"data":{"name":"pts"},"mark":{"type":"point","shape":"diamond","filled":true,"size":9,"color":"#bb33e6","opacity":1},"encoding":{"x":{"field":"o","type":"quantitative","scale":{"domain":[0,10],"nice":false},"axis":{"title":"Observed EP(mm)","values":[0,2,4,6,8,10]}},"y":{"field":"b5","type":"quantitative","scale":{"domain":[0,10],"nice":false},"axis":{"title":"Pre-RSM EP(mm)","values":[0,2,4,6,8,10]}}}},
{"data":{"name":"diag"},"mark":{"type":"line","color":"#ED7D31","strokeWidth":0.9},"encoding":{"x":{"field":"o","type":"quantitative"},"y":{"field":"f","type":"quantitative"}}},
{"data":{"name":"fit"},"transform":[{"filter":"datum.p=='b5'"}],"mark":{"type":"line","color":"black","strokeWidth":0.9},"encoding":{"x":{"field":"o","type":"quantitative"},"y":{"field":"f","type":"quantitative"}}},
{"data":{"name":"eq"},"transform":[{"filter":"datum.p=='b5'"}],"mark":{"type":"text","align":"left","baseline":"middle","fontSize":5,"font":"Liberation Serif"},"encoding":{"x":{"datum":0.6,"type":"quantitative"},"y":{"datum":9.3,"type":"quantitative"},"text":{"field":"t1"}}},
{"data":{"name":"eq"},"transform":[{"filter":"datum.p=='b5'"}],"mark":{"type":"text","align":"left","baseline":"middle","fontSize":5,"font":"Liberation Serif"},"encoding":{"x":{"datum":2.0,"type":"quantitative"},"y":{"datum":8.5,"type":"quantitative"},"text":{"field":"t2"}}}
]},
{"width":77,"height":70,"layer":[
{"data":{"name":"pts"},"mark":{"type":"point","shape":"diamond","filled":true,"size":9,"color":"#bb33e6","opacity":1},"encoding":{"x":{"field":"o","type":"quantitative","scale":{"domain":[0,10],"nice":false},"axis":{"title":"Observed EP(mm)","values":[0,2,4,6,8,10]}},"y":{"field":"b6","type":"quantitative","scale":{"domain":[0,10],"nice":false},"axis":{"title":"Pre-SVR EP(mm)","values":[0,2,4,6,8,10]}}}},
{"data":{"name":"diag"},"mark":{"type":"line","color":"#ED7D31","strokeWidth":0.9},"encoding":{"x":{"field":"o","type":"quantitative"},"y":{"field":"f","type":"quantitative"}}},
{"data":{"name":"fit"},"transform":[{"filter":"datum.p=='b6'"}],"mark":{"type":"line","color":"black","strokeWidth":0.9},"encoding":{"x":{"field":"o","type":"quantitative"},"y":{"field":"f","type":"quantitative"}}},
{"data":{"name":"eq"},"transform":[{"filter":"datum.p=='b6'"}],"mark":{"type":"text","align":"left","baseline":"middle","fontSize":5,"font":"Liberation Serif"},"encoding":{"x":{"datum":0.6,"type":"quantitative"},"y":{"datum":9.3,"type":"quantitative"},"text":{"field":"t1"}}},
{"data":{"name":"eq"},"transform":[{"filter":"datum.p=='b6'"}],"mark":{"type":"text","align":"left","baseline":"middle","fontSize":5,"font":"Liberation Serif"},"encoding":{"x":{"datum":2.0,"type":"quantitative"},"y":{"datum":8.5,"type":"quantitative"},"text":{"field":"t2"}}}
]},
{"width":77,"height":70,"layer":[
{"data":{"name":"pts"},"mark":{"type":"point","shape":"diamond","filled":true,"size":9,"color":"#bb33e6","opacity":1},"encoding":{"x":{"field":"o","type":"quantitative","scale":{"domain":[0,10],"nice":false},"axis":{"title":"Observed EP(mm)","values":[0,2,4,6,8,10]}},"y":{"field":"b7","type":"quantitative","scale":{"domain":[0,10],"nice":false},"axis":{"title":"Pre-ANN(MLP-LM) EP(mm)","values":[0,2,4,6,8,10]}}}},
{"data":{"name":"diag"},"mark":{"type":"line","color":"#ED7D31","strokeWidth":0.9},"encoding":{"x":{"field":"o","type":"quantitative"},"y":{"field":"f","type":"quantitative"}}},
{"data":{"name":"fit"},"transform":[{"filter":"datum.p=='b7'"}],"mark":{"type":"line","color":"black","strokeWidth":0.9},"encoding":{"x":{"field":"o","type":"quantitative"},"y":{"field":"f","type":"quantitative"}}},
{"data":{"name":"eq"},"transform":[{"filter":"datum.p=='b7'"}],"mark":{"type":"text","align":"left","baseline":"middle","fontSize":5,"font":"Liberation Serif"},"encoding":{"x":{"datum":0.6,"type":"quantitative"},"y":{"datum":9.3,"type":"quantitative"},"text":{"field":"t1"}}},
{"data":{"name":"eq"},"transform":[{"filter":"datum.p=='b7'"}],"mark":{"type":"text","align":"left","baseline":"middle","fontSize":5,"font":"Liberation Serif"},"encoding":{"x":{"datum":2.0,"type":"quantitative"},"y":{"datum":8.5,"type":"quantitative"},"text":{"field":"t2"}}}
]},
{"width":77,"height":70,"layer":[
{"data":{"name":"pts"},"mark":{"type":"point","shape":"diamond","filled":true,"size":9,"color":"#bb33e6","opacity":1},"encoding":{"x":{"field":"o","type":"quantitative","scale":{"domain":[0,10],"nice":false},"axis":{"title":"Observed EP(mm)","values":[0,2,4,6,8,10]}},"y":{"field":"b8","type":"quantitative","scale":{"domain":[0,10],"nice":false},"axis":{"title":"Pre-ANN(MLP-CG) EP(mm)","values":[0,2,4,6,8,10]}}}},
{"data":{"name":"diag"},"mark":{"type":"line","color":"#ED7D31","strokeWidth":0.9},"encoding":{"x":{"field":"o","type":"quantitative"},"y":{"field":"f","type":"quantitative"}}},
{"data":{"name":"fit"},"transform":[{"filter":"datum.p=='b8'"}],"mark":{"type":"line","color":"black","strokeWidth":0.9},"encoding":{"x":{"field":"o","type":"quantitative"},"y":{"field":"f","type":"quantitative"}}},
{"data":{"name":"eq"},"transform":[{"filter":"datum.p=='b8'"}],"mark":{"type":"text","align":"left","baseline":"middle","fontSize":5,"font":"Liberation Serif"},"encoding":{"x":{"datum":0.6,"type":"quantitative"},"y":{"datum":9.3,"type":"quantitative"},"text":{"field":"t1"}}},
{"data":{"name":"eq"},"transform":[{"filter":"datum.p=='b8'"}],"mark":{"type":"text","align":"left","baseline":"middle","fontSize":5,"font":"Liberation Serif"},"encoding":{"x":{"datum":2.0,"type":"quantitative"},"y":{"datum":8.5,"type":"quantitative"},"text":{"field":"t2"}}}
]},
{"width":77,"height":70,"layer":[
{"data":{"name":"pts"},"mark":{"type":"point","shape":"diamond","filled":true,"size":9,"color":"#bb33e6","opacity":1},"encoding":{"x":{"field":"o","type":"quantitative","scale":{"domain":[0,10],"nice":false},"axis":{"title":"Observed EP(mm)","values":[0,2,4,6,8,10]}},"y":{"field":"b9","type":"quantitative","scale":{"domain":[0,10],"nice":false},"axis":{"title":"Pre-RBFNN EP(mm)","values":[0,2,4,6,8,10]}}}},
{"data":{"name":"diag"},"mark":{"type":"line","color":"#ED7D31","strokeWidth":0.9},"encoding":{"x":{"field":"o","type":"quantitative"},"y":{"field":"f","type":"quantitative"}}},
{"data":{"name":"fit"},"transform":[{"filter":"datum.p=='b9'"}],"mark":{"type":"line","color":"black","strokeWidth":0.9},"encoding":{"x":{"field":"o","type":"quantitative"},"y":{"field":"f","type":"quantitative"}}},
{"data":{"name":"eq"},"transform":[{"filter":"datum.p=='b9'"}],"mark":{"type":"text","align":"left","baseline":"middle","fontSize":5,"font":"Liberation Serif"},"encoding":{"x":{"datum":0.6,"type":"quantitative"},"y":{"datum":9.3,"type":"quantitative"},"text":{"field":"t1"}}},
{"data":{"name":"eq"},"transform":[{"filter":"datum.p=='b9'"}],"mark":{"type":"text","align":"left","baseline":"middle","fontSize":5,"font":"Liberation Serif"},"encoding":{"x":{"datum":2.0,"type":"quantitative"},"y":{"datum":8.5,"type":"quantitative"},"text":{"field":"t2"}}}
]}
]}
],
"spacing":14,
"config":{
"view":{"stroke":"#9a9a9a","strokeWidth":0.8},
"axis":{"grid":false,"domain":false,"ticks":true,"tickSize":2,"tickColor":"#9a9a9a","labelFont":"Liberation Serif","labelFontSize":5.5,"labelColor":"black","labelPadding":1,"titleFont":"Liberation Serif","titleFontSize":5.5,"titleFontWeight":"bold","titleColor":"black","titlePadding":2},
"text":{"font":"Liberation Serif","color":"black"}
}
}
